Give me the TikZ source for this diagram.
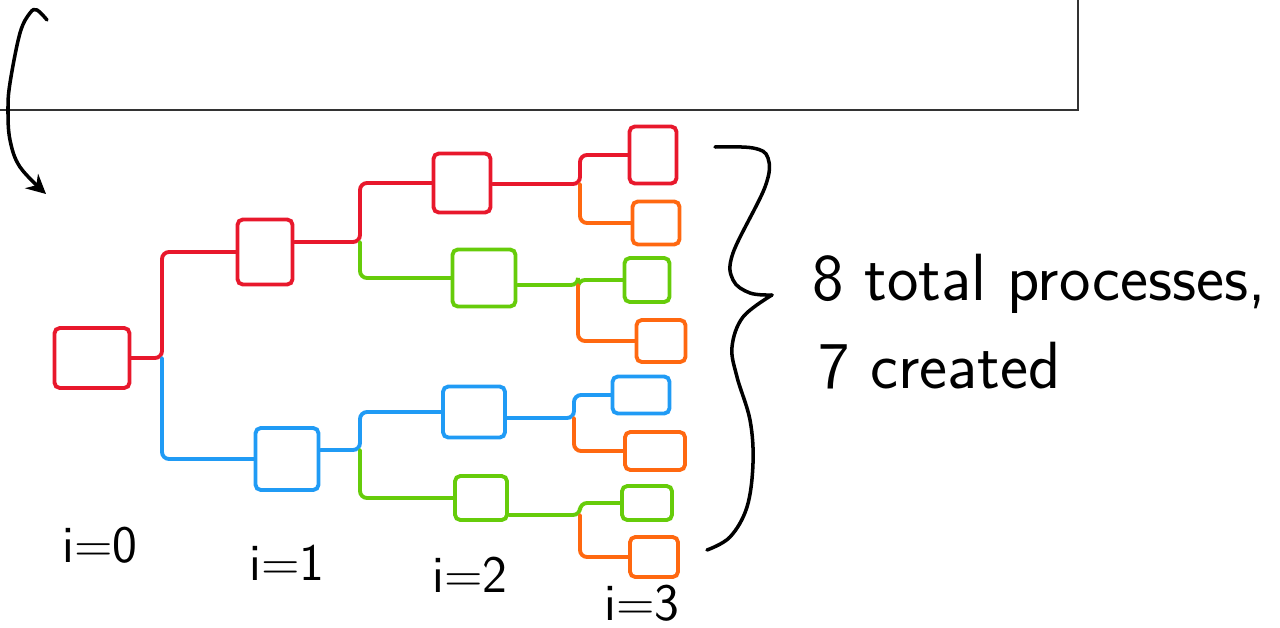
\documentclass[tikz,border=0pt]{standalone}
\usetikzlibrary{arrows.meta}
\definecolor{pred}{RGB}{232,24,44}
\definecolor{pblue}{RGB}{32,155,245}
\definecolor{pgreen}{RGB}{102,204,10}
\definecolor{porange}{RGB}{255,104,16}
\begin{document}
\begin{tikzpicture}[x=0.02cm, y=-0.02cm,
    proc/.style={draw, line width=2.2pt, rounded corners=3pt, inner sep=0pt},
    link/.style={line width=2.2pt, line cap=round, rounded corners=4pt},
    hand/.style={font=\sffamily\fontsize{30}{34}\selectfont, inner sep=0pt}]
    \useasboundingbox (0,0) rectangle (1280,628);

    % frame of the slide above
    \draw[line width=0.8pt, black!80] (0,110) -- (1078,110) -- (1078,0);
    \draw[line width=2pt, line cap=round, -{Stealth[length=11pt, width=11pt]}]
        plot[smooth, tension=0.6] coordinates {(47,20) (37,10) (30,13) (20,33) (10,83) (8,110) (10,140) (20,167) (46,194)};

    % i=0
    \node[proc, draw=pred, minimum width=1.5cm, minimum height=1.2cm] (p0) at (92,358) {};
    % i=1
    \node[proc, draw=pred, minimum width=1.1cm, minimum height=1.3cm] (r1) at (265,252) {};
    \node[proc, draw=pblue, minimum width=1.26cm, minimum height=1.24cm] (b1) at (287,459) {};
    % i=2
    \node[proc, draw=pred, minimum width=1.14cm, minimum height=1.18cm] (r2) at (462,183) {};
    \node[proc, draw=pgreen, minimum width=1.26cm, minimum height=1.14cm] (g2) at (484,278) {};
    \node[proc, draw=pblue, minimum width=1.24cm, minimum height=1.02cm] (b2) at (474,412) {};
    \node[proc, draw=pgreen, minimum width=1.04cm, minimum height=0.88cm] (h2) at (481,498) {};
    % i=3
    \node[proc, draw=pred, minimum width=0.94cm, minimum height=1.14cm] (r3) at (653,155) {};
    \node[proc, draw=porange, minimum width=0.94cm, minimum height=0.86cm] (o3) at (656,223) {};
    \node[proc, draw=pgreen, minimum width=0.9cm, minimum height=0.88cm] (g3) at (647,280) {};
    \node[proc, draw=porange, minimum width=0.98cm, minimum height=0.84cm] (o4) at (661,341) {};
    \node[proc, draw=pblue, minimum width=1.14cm, minimum height=0.74cm] (b3) at (641,395) {};
    \node[proc, draw=porange, minimum width=1.2cm, minimum height=0.76cm] (o5) at (655,451) {};
    \node[proc, draw=pgreen, minimum width=1.0cm, minimum height=0.68cm] (h3) at (647,503) {};
    \node[proc, draw=porange, minimum width=0.96cm, minimum height=0.8cm] (o6) at (654,557) {};

    % forks
    \coordinate (f0) at (162,358);
    \coordinate (f1) at (360,242);
    \coordinate (f2) at (360,450);
    \coordinate (f3) at (580,184);
    \coordinate (f4) at (578,285);
    \coordinate (f5) at (574,418);
    \coordinate (f6) at (580,515);

    \draw[link, pred] (p0) -- (f0) |- (r1);
    \draw[link, pblue] (f0) |- (b1);
    \draw[link, pred] (r1.east |- f1) -- (f1) |- (r2);
    \draw[link, pgreen] (f1) |- (g2);
    \draw[link, pblue] (b1.east |- f2) -- (f2) |- (b2);
    \draw[link, pgreen] (f2) |- (h2);
    \draw[link, pred] (r2.east |- f3) -- (f3) |- (r3);
    \draw[link, porange] (f3) |- (o3);
    \draw[link, pgreen] (g2.east |- f4) -- (f4) |- (g3);
    \draw[link, porange] (f4) |- (o4);
    \draw[link, pblue] (b2.east |- f5) -- (f5) |- (b3);
    \draw[link, porange] (f5) |- (o5);
    \draw[link, pgreen] (h2.east |- f6) -- (f6) |- (h3);
    \draw[link, porange] (f6) |- (o6);

    % generations
    \node[hand] (l0) at (100,545) {i=0};
    \node[hand] (l1) at (287,563) {i=1};
    \node[hand] (l2) at (470,575) {i=2};
    \node[hand] (l3) at (642,603) {i=3};

    % brace and note
    \draw[line width=2pt, line cap=round]
        plot[smooth, tension=0.6] coordinates {(715,147) (753,148) (768,158) (765,187) (733,253) (733,280) (750,293) (772,295)};
    \draw[line width=2pt, line cap=round]
        plot[smooth, tension=0.6] coordinates {(772,295) (743,317) (732,347) (737,377) (750,420) (753,463) (747,507) (730,537) (707,550)};
    \node[hand, anchor=base west, font=\sffamily\fontsize{38}{44}\selectfont] (t1) at (812,300) {8 total processes,};
    \node[hand, anchor=base west, font=\sffamily\fontsize{38}{44}\selectfont] (t2) at (818,388) {7 created};

\end{tikzpicture}
\end{document}
